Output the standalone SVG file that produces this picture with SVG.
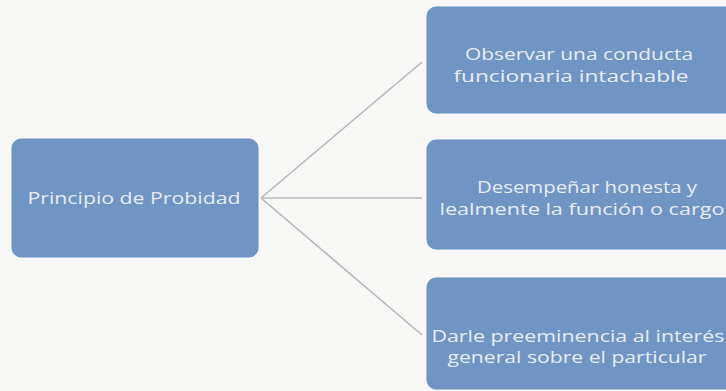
<svg xmlns="http://www.w3.org/2000/svg" width="726" height="391" viewBox="0 0 726 391">
<style>
.box{fill:#7094c4;stroke:#6b8fc0;stroke-width:1}
.t{font-family:"Open Sans","Liberation Sans",sans-serif;font-size:17px;fill:#e8edf4;text-anchor:middle}
.c{stroke:#b8b8b8;stroke-width:1.6;fill:none}
</style>
<rect width="726" height="391" fill="#f7f7f6"/>
<g id="connectors">
<line class="c" x1="261" y1="198" x2="422" y2="62"/>
<line class="c" x1="261" y1="198" x2="422" y2="198"/>
<line class="c" x1="261" y1="198" x2="422" y2="335"/>
</g>
<g id="n0">
<rect class="box" x="12" y="139" width="246" height="118" rx="9"/>
<text class="t" x="134" y="204" textLength="213" lengthAdjust="spacingAndGlyphs">Principio de Probidad</text>
</g>
<g id="n1">
<rect class="box" x="427" y="7" width="310" height="106" rx="9"/>
<text class="t" x="579" y="60" textLength="228" lengthAdjust="spacingAndGlyphs">Observar una conducta</text>
<text class="t" x="571" y="82" textLength="235" lengthAdjust="spacingAndGlyphs">funcionaria intachable</text>
</g>
<g id="n2">
<rect class="box" x="427" y="140" width="310" height="109" rx="9"/>
<text class="t" x="587" y="193" textLength="220" lengthAdjust="spacingAndGlyphs">Desempeñar honesta y</text>
<text class="t" x="582" y="215" textLength="285" lengthAdjust="spacingAndGlyphs">lealmente la función o cargo</text>
</g>
<g id="n3">
<rect class="box" x="427" y="278" width="310" height="111" rx="9"/>
<text class="t" x="578" y="342" textLength="293" lengthAdjust="spacingAndGlyphs">Darle preeminencia al interés</text>
<text class="t" x="577" y="363" textLength="259" lengthAdjust="spacingAndGlyphs">general sobre el particular</text>
</g>
</svg>
